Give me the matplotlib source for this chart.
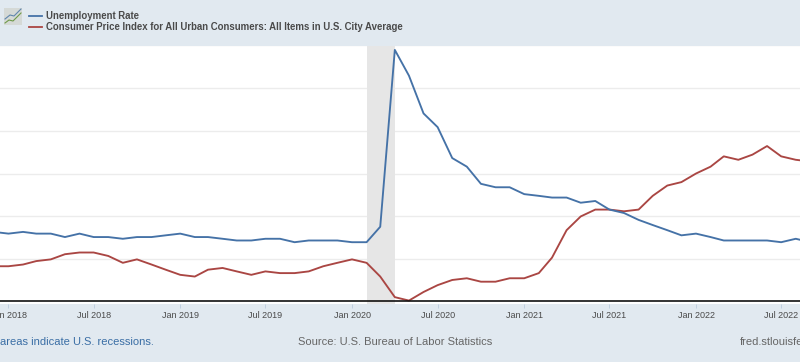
import matplotlib
matplotlib.use("Agg")
import matplotlib.pyplot as plt
import pandas as pd
from matplotlib.patches import Rectangle
from matplotlib.lines import Line2D

plt.rcParams['font.family'] = ['Liberation Sans', 'DejaVu Sans']

months = pd.date_range('2017-12-01', '2022-09-01', freq='MS')
unemployment = [4.1,
    4.0,4.1,4.0,4.0,3.8,4.0,3.8,3.8,3.7,3.8,3.8,3.9,
    4.0,3.8,3.8,3.7,3.6,3.6,3.7,3.7,3.5,3.6,3.6,3.6,
    3.5,3.5,4.4,14.7,13.2,11.0,10.2,8.4,7.9,6.9,6.7,6.7,
    6.3,6.2,6.1,6.1,5.8,5.9,5.4,5.2,4.8,4.5,4.2,3.9,
    4.0,3.8,3.6,3.6,3.6,3.6,3.5,3.7,3.5]
cpi = [2.1,
    2.1,2.2,2.4,2.5,2.8,2.9,2.9,2.7,2.3,2.5,2.2,1.9,
    1.6,1.5,1.9,2.0,1.8,1.6,1.8,1.7,1.7,1.8,2.1,2.3,
    2.5,2.3,1.5,0.3,0.1,0.6,1.0,1.3,1.4,1.2,1.2,1.4,
    1.4,1.7,2.6,4.2,5.0,5.4,5.4,5.3,5.4,6.2,6.8,7.0,
    7.5,7.9,8.5,8.3,8.6,9.1,8.5,8.3,8.2]
recession = ('2020-02-01', '2020-04-01')
grid_values = [0, 2.5, 5, 7.5, 10, 12.5, 15]
tick_dates = ['2018-01-01','2018-07-01','2019-01-01','2019-07-01','2020-01-01',
              '2020-07-01','2021-01-01','2021-07-01','2022-01-01','2022-07-01']
tick_labels = ['Jan 2018','Jul 2018','Jan 2019','Jul 2019','Jan 2020',
               'Jul 2020','Jan 2021','Jul 2021','Jan 2022','Jul 2022']
legend_labels = ['Unemployment Rate',
                 'Consumer Price Index for All Urban Consumers: All Items in U.S. City Average']

W, H = 800, 362
BG = '#e1e9f0'
BLUE = '#4572a7'
RED = '#aa4643'
TXT = '#4a4a4a'
fig = plt.figure(figsize=(W/100, H/100), dpi=100, facecolor=BG)

top_px, bot_px = 45.5, 303.5
ax = fig.add_axes([0, 1-bot_px/H, 1, (bot_px-top_px)/H], facecolor='white')
ppu = 17.17
zero_px = 302.3
ax.set_ylim((zero_px-bot_px)/ppu, (zero_px-top_px)/ppu)
ax.set_xlim(pd.Timestamp('2017-12-14'), pd.Timestamp('2022-08-10'))
for s in ax.spines.values():
    s.set_visible(False)
for g in grid_values[1:]:
    ax.axhline(g, color='#ececec', lw=1.0, zorder=1)
ax.axvspan(pd.Timestamp(recession[0]), pd.Timestamp(recession[1]), color='#e6e6e6', lw=0, zorder=2)
ax.plot(months, unemployment, color=BLUE, lw=1.35, zorder=4, solid_joinstyle='round')
ax.plot(months, cpi, color=RED, lw=1.35, zorder=3, solid_joinstyle='round')
ax.axhline((zero_px-301)/ppu, color='#111111', lw=1.2, zorder=5)
ax.set_yticks([])
ax.set_xticks([pd.Timestamp(d) for d in tick_dates])
ax.set_xticklabels(tick_labels, fontsize=6.5, color=TXT, fontweight='normal')
ax.tick_params(axis='x', length=3.2, width=0.7, color='#c0d0e0', pad=2.3)

def px(x, y):
    return x/W, 1-y/H

# legend
for y, col, lab in zip((16, 27), (BLUE, RED), legend_labels):
    x0, y0 = px(29, y); x1, _ = px(42, y)
    fig.add_artist(Line2D([x0, x1], [y0, y0], color=col, lw=1.3))
    tx, ty = px(46, y)
    fig.text(tx, ty, lab, fontsize=6.95, color=TXT, va='center', ha='left', fontweight='bold')

# chart icon
ix, iy = px(4, 25)
fig.add_artist(Rectangle((ix, iy), 18/W, 17/H, transform=fig.transFigure, facecolor='#d5d9d6', edgecolor='none'))
for col, pts in (('#6f9a4a', [(5,23),(9,20),(13,21),(21,13)]), ('#5f86ad', [(5,19),(10,15),(14,16),(21,9)])):
    xs, ys = zip(*[px(*p) for p in pts])
    fig.add_artist(Line2D(xs, ys, color=col, lw=0.8))

# footer
fx, fy = px(0, 342)
fig.text(fx, fy, 'areas indicate U.S. recessions.', fontsize=8.05, color='#3a6ea5', va='center', ha='left')
fx, _ = px(297.5, 0)
fig.text(fx, fy, 'Source: U.S. Bureau of Labor Statistics', fontsize=8.05, color='#666666', va='center', ha='left')
fx, _ = px(739.5, 0)
fig.text(fx, fy, 'fred.stlouisfed.org', fontsize=8.05, color='#666666', va='center', ha='left')

fig.savefig('out.png', dpi=100, facecolor=BG)
